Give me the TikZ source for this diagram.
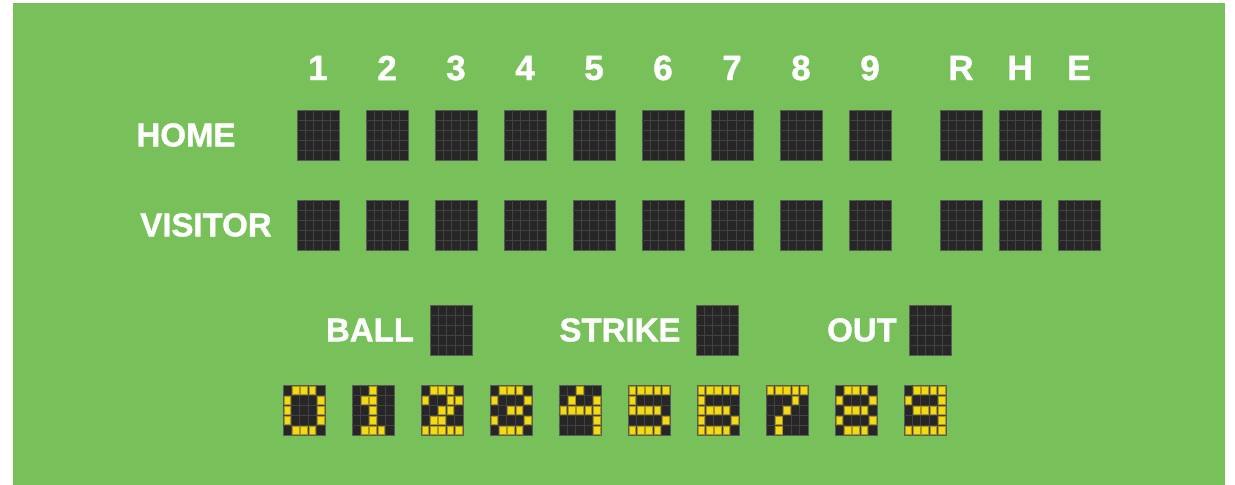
\documentclass[tikz,border=0pt]{standalone}
\usepackage{fontspec}
\setmainfont[BoldFeatures={FakeBold=1.2}]{Liberation Sans}
\definecolor{bg}{RGB}{120,193,90}
\definecolor{boxfill}{RGB}{38,38,38}
\definecolor{boxline}{RGB}{90,90,90}
\definecolor{gridcol}{RGB}{66,66,66}
\definecolor{ledyellow}{RGB}{242,218,22}
\definecolor{lededge}{RGB}{170,150,20}
\tikzset{
  lbl/.style={text=white,font=\bfseries\fontsize{16.5}{18}\selectfont,inner sep=0pt},
  hdr/.style={text=white,font=\bfseries\fontsize{17.5}{19}\selectfont,inner sep=0pt},
  panel/.style={draw=boxline,fill=boxfill,minimum width=21pt,minimum height=25pt,inner sep=0pt,anchor=north west,line width=0.5pt},
  gridc/.style={draw=gridcol,line width=0.4pt},
  led/.style={fill=ledyellow,draw=lededge,line width=0.3pt}
}
\newcommand\scorecell[3]{%
  \node[panel] (#1) at (#2,#3) {};
  \foreach \i in {1,...,4}{%
    \draw[gridc] ({#2+\i*8.4},#3) -- ({#2+\i*8.4},{#3+50});
    \draw[gridc] (#2,{#3+\i*10}) -- ({#2+42},{#3+\i*10});
  }%
}
\newcommand\ledcell[3]{% x0, row, col
  \filldraw[led] ({#1+#3*8.4+0.9},{385+#2*10+0.9}) rectangle +(6.6,8.2);
}
\newcommand\ledrow[7]{% x0,row, five bits
  \ifnum#3=1 \ledcell{#1}{#2}{0}\fi
  \ifnum#4=1 \ledcell{#1}{#2}{1}\fi
  \ifnum#5=1 \ledcell{#1}{#2}{2}\fi
  \ifnum#6=1 \ledcell{#1}{#2}{3}\fi
  \ifnum#7=1 \ledcell{#1}{#2}{4}\fi
}
\newcommand\leddigit[7]{% name, x, five rows
  \scorecell{#1}{#2}{385}
  \ledrow{#2}{0}#3
  \ledrow{#2}{1}#4
  \ledrow{#2}{2}#5
  \ledrow{#2}{3}#6
  \ledrow{#2}{4}#7
}
\begin{document}
\begin{tikzpicture}[x=0.5pt,y=-0.5pt]
\useasboundingbox (0,0) rectangle (1235,485);
\fill[white] (0,0) rectangle (1235,485);
\fill[bg] (13,3) rectangle (1225,485);
% innings and totals
\foreach \c/\x in {1/297,2/366,3/435,4/504,5/573,6/642,7/711,8/780,9/849,R/940,H/999,E/1058}{%
  \node[hdr] (n\c) at ({\x+21},68) {\c};
  \scorecell{h\c}{\x}{110}
  \scorecell{v\c}{\x}{200}
}
\node[lbl] (home) at (186,135) {HOME};
\node[lbl] (visitor) at (206,225) {VISITOR};
% count
\node[lbl] (ball) at (370,330) {BALL};
\scorecell{ballbox}{430}{305}
\node[lbl] (strike) at (620,330) {STRIKE};
\scorecell{strikebox}{696}{305}
\node[lbl] (out) at (862,330) {OUT};
\scorecell{outbox}{909}{305}
% LED digits
\leddigit{d0}{283}{01110}{10001}{10001}{10001}{01110}
\leddigit{d1}{352}{00100}{01100}{00100}{00100}{01110}
\leddigit{d2}{421}{01110}{10011}{00110}{01100}{11111}
\leddigit{d3}{490}{01110}{10001}{00110}{10001}{01110}
\leddigit{d4}{559}{00100}{01001}{11111}{00001}{00001}
\leddigit{d5}{628}{11111}{10000}{11110}{00001}{11110}
\leddigit{d6}{697}{11111}{10000}{11110}{10001}{11110}
\leddigit{d7}{766}{11111}{00010}{00100}{01000}{01000}
\leddigit{d8}{835}{01110}{10001}{01110}{10001}{01110}
\leddigit{d9}{904}{01111}{10001}{01111}{00001}{11111}
\end{tikzpicture}
\end{document}
